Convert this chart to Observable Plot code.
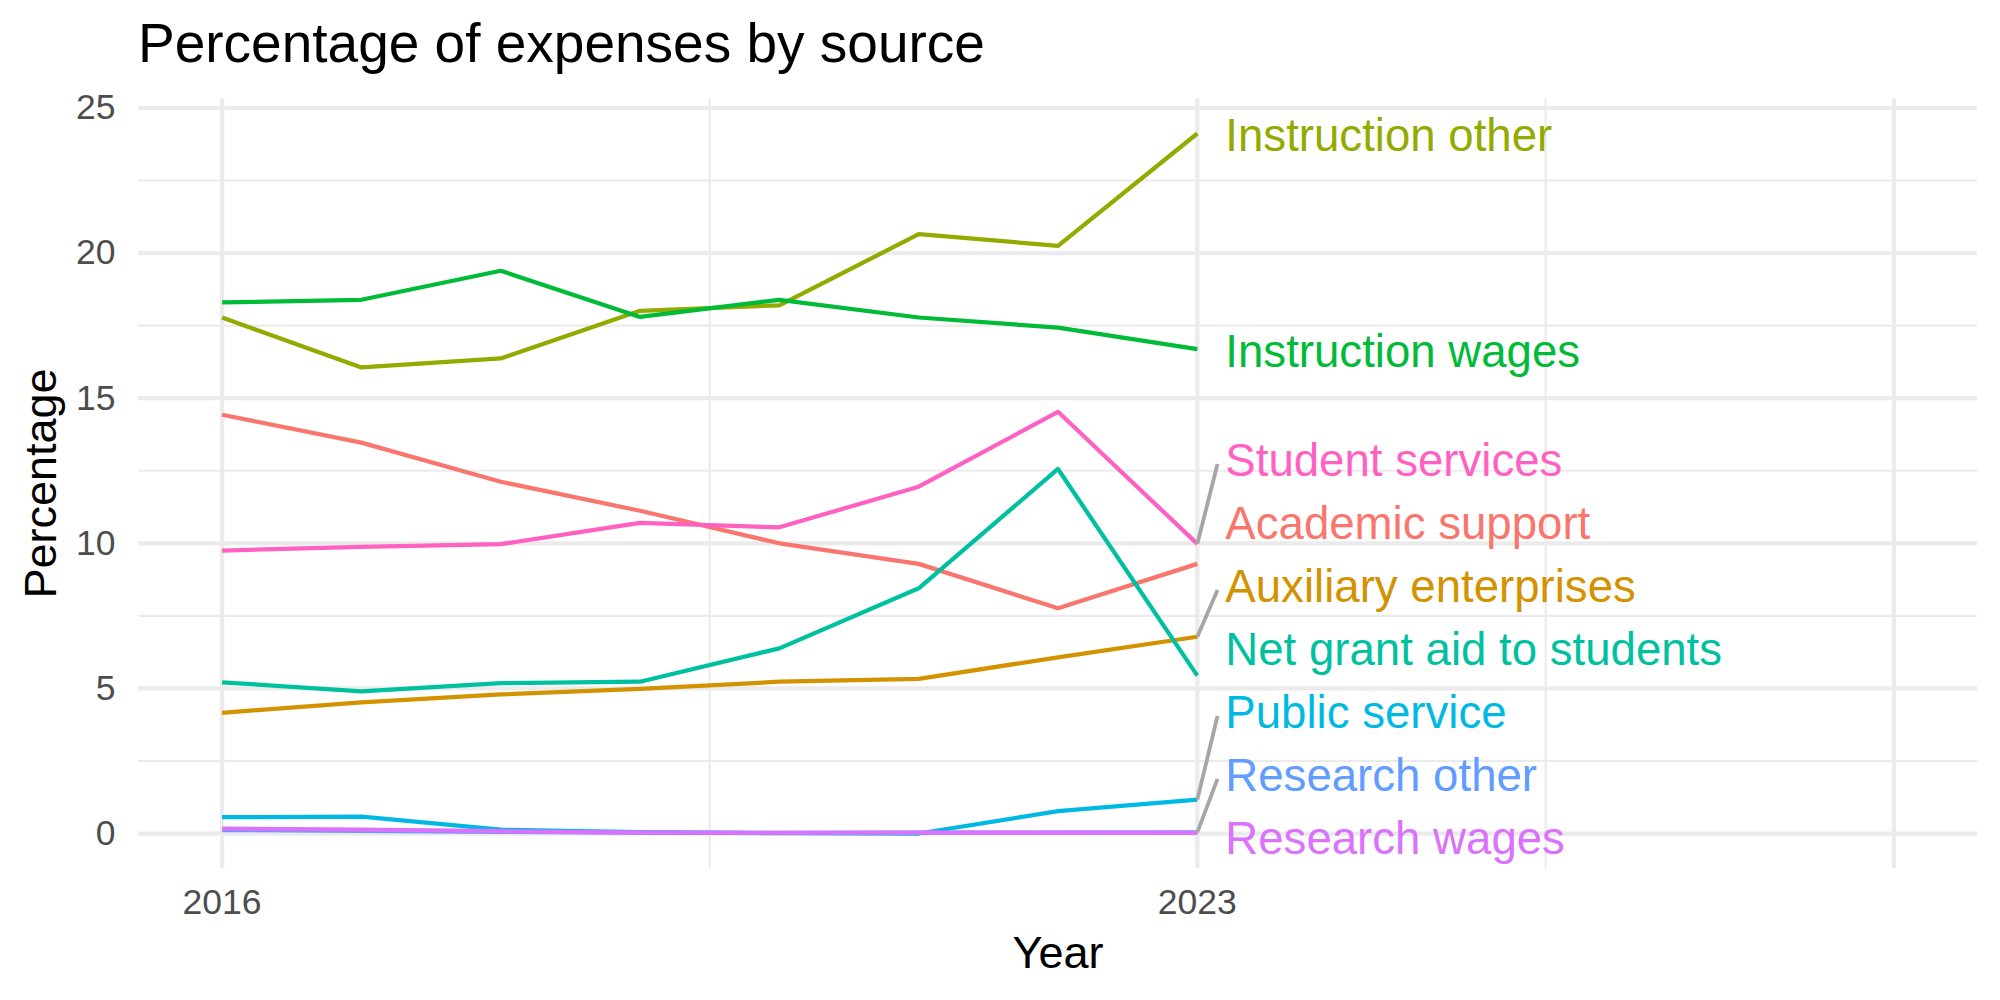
<!DOCTYPE html>
<html>
<head>
<meta charset="utf-8">
<script src="https://cdn.jsdelivr.net/npm/d3@7"></script>
<script src="https://cdn.jsdelivr.net/npm/@observablehq/plot@0.6"></script>
<style>
  html, body { margin: 0; padding: 0; background: #ffffff; }
  #chart { width: 2000px; height: 1000px; font-family: "Liberation Sans", Arial, Helvetica, sans-serif; }
  #title { height: 80px; box-sizing: border-box; padding: 16px 0 0 138px; font-size: 55px; line-height: 55px; color: #000; white-space: nowrap; }
</style>
</head>
<body>
<div id="chart">
  <div id="title">Percentage of expenses by source</div>
</div>
<script>
// Expense shares (percent) by source, 2016–2023
const years = [2016, 2017, 2018, 2019, 2020, 2021, 2022, 2023];
const sources = [
  "Academic support", "Auxiliary enterprises", "Instruction other", "Instruction wages",
  "Net grant aid to students", "Public service", "Research other", "Research wages", "Student services"
];
const academicSupport      = [14.43, 13.47, 12.12, 11.12, 10.00, 9.29, 7.76, 9.29];
const auxiliaryEnterprises = [4.16, 4.52, 4.79, 4.98, 5.23, 5.33, 6.07, 6.78];
const instructionOther     = [17.78, 16.06, 16.37, 18.01, 18.20, 20.65, 20.25, 24.12];
const instructionWages     = [18.30, 18.39, 19.39, 17.80, 18.39, 17.78, 17.43, 16.69];
const netGrantAid          = [5.21, 4.90, 5.18, 5.23, 6.38, 8.45, 12.56, 5.44];
const publicService        = [0.56, 0.58, 0.13, 0.05, 0.01, 0.00, 0.77, 1.17];
const researchOther        = [0.12, 0.09, 0.06, 0.03, 0.02, 0.03, 0.03, 0.04];
const researchWages        = [0.17, 0.13, 0.08, 0.03, 0.02, 0.03, 0.03, 0.02];
const studentServices      = [9.75, 9.88, 9.97, 10.70, 10.55, 11.95, 14.53, 9.98];

// Axis breaks
const xLabelledTicks = [2016, 2023];
const xMajorGrid = [2016, 2023, 2028];
const xMinorGrid = [2019.5, 2025.5];
const yMajorGrid = [0, 5, 10, 15, 20, 25];
const yMinorGrid = [2.5, 7.5, 12.5, 17.5, 22.5];
const xLimit = 2028; // extra room on the right for the end labels

// ggplot-style hue palette for nine series
const palette = ["#F8766D", "#D39200", "#93AA00", "#00BA38", "#00C19F", "#00B9E3", "#619CFF", "#DB72FB", "#FF61C3"];

const seriesValues = [
  academicSupport, auxiliaryEnterprises, instructionOther, instructionWages,
  netGrantAid, publicService, researchOther, researchWages, studentServices
];

const rows = sources.flatMap((source, s) =>
  years.map((year, i) => ({source, year, value: seriesValues[s][i]}))
);

// End-of-line labels, pushed apart vertically (bottom-up) so they don't overlap
const lastYear = years[years.length - 1];
const minGap = 2.17;
const crowdPush = 0.12;
const ends = sources.map((source, s) => ({source, value: seriesValues[s][years.length - 1]}));
const byValue = ends.slice().sort((a, b) => a.value - b.value);
let prev = null;
for (const e of byValue) {
  e.labelY = prev === null ? e.value - crowdPush : Math.max(e.value, prev + minGap);
  prev = e.labelY;
}
const leaders = ends.filter(e => e.labelY - e.value > 1.75);

// Scale limits with 5% padding, like ggplot's default expansion
const allValues = rows.map(d => d.value);
const yMin = d3.min(allValues), yMax = d3.max(allValues);
const yPad = 0.05 * (yMax - yMin);
const xPad = 0.05 * (xLimit - years[0]);

const grid = "#ebebeb";
const font = '"Liberation Sans", Arial, Helvetica, sans-serif';

const chart = Plot.plot({
  width: 2000,
  height: 920,
  marginTop: 18,
  marginRight: 23,
  marginBottom: 132,
  marginLeft: 138,
  style: {fontFamily: font, background: "#ffffff", overflow: "visible"},
  x: {domain: [years[0] - xPad, xLimit + xPad]},
  y: {domain: [yMin - yPad, yMax + yPad]},
  color: {domain: sources, range: palette},
  marks: [
    Plot.ruleY(yMinorGrid, {stroke: grid, strokeWidth: 2.1}),
    Plot.ruleX(xMinorGrid, {stroke: grid, strokeWidth: 2.1}),
    Plot.ruleY(yMajorGrid, {stroke: grid, strokeWidth: 4.25}),
    Plot.ruleX(xMajorGrid, {stroke: grid, strokeWidth: 4.25}),
    Plot.axisY(yMajorGrid, {tickSize: 0, tickPadding: 23, fontSize: 35.5, fill: "#4d4d4d", label: null}),
    Plot.axisX(xLabelledTicks, {tickSize: 0, tickPadding: 20, fontSize: 35.5, fill: "#4d4d4d", label: null, tickFormat: d => String(d)}),
    Plot.line(rows, {x: "year", y: "value", z: "source", stroke: "source", strokeWidth: 4.25, strokeLinecap: "butt", strokeLinejoin: "round"}),
    Plot.link(leaders, {
      x1: () => lastYear, y1: "value",
      x2: () => lastYear + 0.145, y2: d => d.labelY - 0.19,
      stroke: "#a6a6a6", strokeWidth: 3.8
    }),
    Plot.text(ends, {
      x: () => lastYear, y: "labelY", text: "source", fill: "source",
      textAnchor: "start", lineAnchor: "middle", dx: 28, dy: 2.8, fontSize: 45.6
    }),
    Plot.text(["Year"], {frameAnchor: "bottom", textAnchor: "middle", lineAnchor: "bottom", dy: 99, fontSize: 45, fill: "#000"}),
    Plot.text(["Percentage"], {frameAnchor: "left", textAnchor: "middle", lineAnchor: "middle", rotate: -90, dx: -97, fontSize: 45, fill: "#000"})
  ]
});

document.getElementById("chart").appendChild(chart);
</script>
</body>
</html>
